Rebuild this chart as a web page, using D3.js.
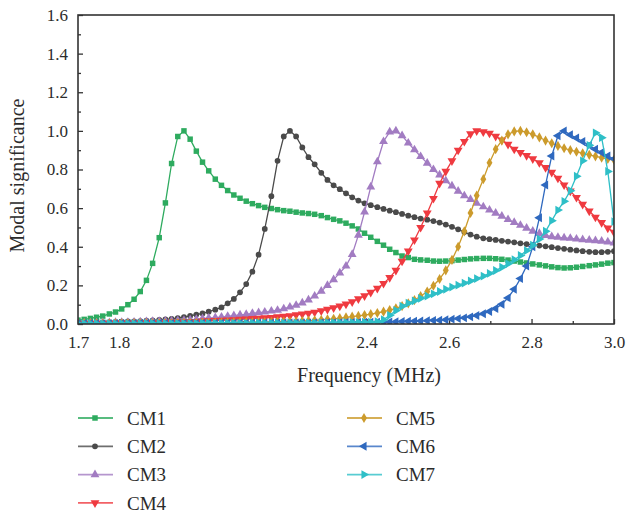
<!DOCTYPE html>
<html>
<head>
<meta charset="utf-8">
<script src="https://cdn.jsdelivr.net/npm/d3@7"></script>
<style>
  body { margin: 0; background: #fff; }
  svg text { font-family: "Liberation Serif", "Times New Roman", "DejaVu Serif", serif; fill: #2b2b2b; }
</style>
</head>
<body>
<div id="chart"></div>
<script>
// Frequency samples (MHz), one per marker
var freq = [1.700, 1.715, 1.730, 1.745, 1.760, 1.776, 1.791, 1.806, 1.821, 1.836,
  1.851, 1.866, 1.881, 1.897, 1.912, 1.927, 1.942, 1.957, 1.972, 1.987,
  2.002, 2.017, 2.033, 2.048, 2.063, 2.078, 2.093, 2.108, 2.123, 2.138,
  2.153, 2.169, 2.184, 2.199, 2.214, 2.229, 2.244, 2.259, 2.274, 2.290,
  2.305, 2.320, 2.335, 2.350, 2.365, 2.380, 2.395, 2.410, 2.426, 2.441,
  2.456, 2.471, 2.486, 2.501, 2.516, 2.531, 2.547, 2.562, 2.577, 2.592,
  2.607, 2.622, 2.637, 2.652, 2.667, 2.683, 2.698, 2.713, 2.728, 2.743,
  2.758, 2.773, 2.788, 2.803, 2.819, 2.834, 2.849, 2.864, 2.879, 2.894,
  2.909, 2.924, 2.940, 2.955, 2.970, 2.985, 3.000];

// Modal significance of each characteristic mode
var cm1 = [0.020, 0.024, 0.029, 0.035, 0.041, 0.052, 0.062, 0.078, 0.100, 0.128,
  0.168, 0.226, 0.314, 0.447, 0.627, 0.831, 0.971, 1.000, 0.957, 0.895,
  0.838, 0.793, 0.750, 0.718, 0.691, 0.668, 0.651, 0.636, 0.623, 0.613,
  0.604, 0.598, 0.592, 0.587, 0.584, 0.579, 0.575, 0.572, 0.568, 0.561,
  0.551, 0.542, 0.534, 0.522, 0.508, 0.492, 0.470, 0.449, 0.428, 0.408,
  0.387, 0.370, 0.352, 0.344, 0.335, 0.332, 0.330, 0.326, 0.325, 0.326,
  0.328, 0.331, 0.334, 0.337, 0.339, 0.340, 0.340, 0.338, 0.335, 0.331,
  0.326, 0.321, 0.316, 0.311, 0.306, 0.301, 0.296, 0.292, 0.290, 0.291,
  0.294, 0.298, 0.302, 0.306, 0.310, 0.315, 0.318];

var cm2 = [0.006, 0.007, 0.007, 0.008, 0.009, 0.010, 0.011, 0.012, 0.013, 0.014,
  0.015, 0.017, 0.019, 0.021, 0.024, 0.027, 0.031, 0.036, 0.042, 0.049,
  0.055, 0.064, 0.074, 0.086, 0.107, 0.130, 0.164, 0.207, 0.271, 0.359,
  0.492, 0.662, 0.845, 0.971, 1.000, 0.971, 0.914, 0.864, 0.827, 0.783,
  0.746, 0.718, 0.698, 0.677, 0.656, 0.639, 0.625, 0.615, 0.605, 0.596,
  0.587, 0.579, 0.570, 0.561, 0.553, 0.546, 0.540, 0.533, 0.525, 0.515,
  0.503, 0.490, 0.476, 0.463, 0.452, 0.444, 0.439, 0.435, 0.431, 0.427,
  0.423, 0.418, 0.414, 0.410, 0.406, 0.402, 0.398, 0.393, 0.389, 0.385,
  0.381, 0.377, 0.374, 0.372, 0.372, 0.374, 0.377];

var cm3 = [0.005, 0.005, 0.006, 0.006, 0.007, 0.007, 0.008, 0.009, 0.009, 0.010,
  0.011, 0.012, 0.013, 0.014, 0.015, 0.016, 0.018, 0.019, 0.021, 0.024,
  0.028, 0.031, 0.033, 0.036, 0.040, 0.043, 0.047, 0.050, 0.055, 0.059,
  0.062, 0.067, 0.071, 0.079, 0.088, 0.097, 0.109, 0.125, 0.145, 0.170,
  0.200, 0.230, 0.265, 0.300, 0.360, 0.460, 0.580, 0.710, 0.840, 0.945,
  0.995, 1.000, 0.975, 0.937, 0.902, 0.867, 0.833, 0.800, 0.772, 0.742,
  0.715, 0.688, 0.664, 0.645, 0.625, 0.607, 0.590, 0.574, 0.558, 0.541,
  0.526, 0.511, 0.496, 0.481, 0.469, 0.459, 0.452, 0.449, 0.446, 0.444,
  0.440, 0.437, 0.434, 0.432, 0.429, 0.425, 0.420];

var cm4 = [0.003, 0.003, 0.004, 0.004, 0.004, 0.005, 0.005, 0.006, 0.006, 0.006,
  0.007, 0.007, 0.008, 0.008, 0.009, 0.010, 0.011, 0.011, 0.012, 0.013,
  0.015, 0.016, 0.018, 0.019, 0.021, 0.022, 0.024, 0.026, 0.028, 0.030,
  0.032, 0.034, 0.037, 0.040, 0.043, 0.047, 0.051, 0.055, 0.061, 0.068,
  0.076, 0.084, 0.093, 0.103, 0.115, 0.130, 0.146, 0.164, 0.185, 0.210,
  0.240, 0.278, 0.325, 0.378, 0.435, 0.500, 0.575, 0.650, 0.728, 0.790,
  0.845, 0.900, 0.945, 0.985, 1.000, 0.995, 0.988, 0.972, 0.953, 0.930,
  0.905, 0.888, 0.872, 0.855, 0.835, 0.810, 0.785, 0.755, 0.720, 0.688,
  0.655, 0.620, 0.585, 0.553, 0.525, 0.497, 0.475];

var cm5 = [0.002, 0.002, 0.002, 0.002, 0.002, 0.002, 0.003, 0.003, 0.003, 0.003,
  0.003, 0.003, 0.004, 0.004, 0.004, 0.004, 0.005, 0.005, 0.005, 0.005,
  0.006, 0.006, 0.006, 0.007, 0.007, 0.008, 0.008, 0.009, 0.009, 0.010,
  0.010, 0.011, 0.012, 0.013, 0.013, 0.014, 0.015, 0.017, 0.019, 0.021,
  0.024, 0.027, 0.030, 0.034, 0.038, 0.042, 0.046, 0.051, 0.057, 0.064,
  0.072, 0.081, 0.093, 0.107, 0.124, 0.144, 0.168, 0.198, 0.233, 0.278,
  0.332, 0.400, 0.480, 0.575, 0.665, 0.750, 0.835, 0.905, 0.950, 0.982,
  0.997, 1.000, 0.993, 0.982, 0.966, 0.950, 0.936, 0.922, 0.910, 0.900,
  0.892, 0.884, 0.876, 0.868, 0.861, 0.855, 0.850];

var cm6 = [0.002, 0.002, 0.002, 0.002, 0.002, 0.002, 0.002, 0.002, 0.002, 0.002,
  0.003, 0.003, 0.003, 0.003, 0.003, 0.003, 0.003, 0.003, 0.003, 0.003,
  0.004, 0.004, 0.004, 0.004, 0.004, 0.004, 0.004, 0.004, 0.005, 0.005,
  0.005, 0.005, 0.005, 0.005, 0.006, 0.006, 0.006, 0.006, 0.006, 0.007,
  0.007, 0.007, 0.007, 0.008, 0.008, 0.008, 0.009, 0.009, 0.010, 0.010,
  0.011, 0.012, 0.013, 0.014, 0.015, 0.016, 0.017, 0.019, 0.020, 0.022,
  0.025, 0.028, 0.032, 0.037, 0.044, 0.053, 0.065, 0.080, 0.102, 0.135,
  0.180, 0.235, 0.300, 0.400, 0.550, 0.720, 0.870, 0.975, 1.000, 0.980,
  0.963, 0.945, 0.925, 0.905, 0.888, 0.870, 0.855];

var cm7 = [0.002, 0.002, 0.002, 0.002, 0.002, 0.002, 0.002, 0.002, 0.002, 0.002,
  0.003, 0.003, 0.003, 0.003, 0.003, 0.003, 0.003, 0.003, 0.003, 0.003,
  0.004, 0.004, 0.004, 0.004, 0.004, 0.004, 0.004, 0.004, 0.005, 0.005,
  0.005, 0.005, 0.005, 0.005, 0.006, 0.006, 0.006, 0.006, 0.006, 0.007,
  0.007, 0.007, 0.007, 0.008, 0.008, 0.008, 0.009, 0.009, 0.012, 0.022,
  0.045, 0.070, 0.092, 0.108, 0.120, 0.133, 0.145, 0.156, 0.168, 0.180,
  0.191, 0.201, 0.212, 0.223, 0.235, 0.248, 0.262, 0.277, 0.294, 0.312,
  0.333, 0.355, 0.380, 0.408, 0.440, 0.480, 0.535, 0.590, 0.635, 0.690,
  0.765, 0.845, 0.925, 0.990, 0.965, 0.790, 0.530];

var seriesNames = ["CM1", "CM2", "CM3", "CM4", "CM5", "CM6", "CM7"];
var seriesValues = [cm1, cm2, cm3, cm4, cm5, cm6, cm7];

// Axis ticks
var xMajorTicks = [1.7, 1.8, 2.0, 2.2, 2.4, 2.6, 2.8, 3.0];
var xMinorTicks = [1.9, 2.1, 2.3, 2.5, 2.7, 2.9];
var yMajorTicks = [0, 0.2, 0.4, 0.6, 0.8, 1.0, 1.2, 1.4, 1.6];
var yMinorTicks = [0.1, 0.3, 0.5, 0.7, 0.9, 1.1, 1.3, 1.5];

// Styles of each mode: colour, marker shape and rotation
var colors = ["#2eab5f", "#4a4a4a", "#a27cc2", "#ef3a40", "#cc9b2c", "#2f69bf", "#2ebfc7"];
var shapes = [d3.symbolSquare, d3.symbolCircle, d3.symbolTriangle, d3.symbolTriangle,
  d3.symbolDiamond, d3.symbolTriangle, d3.symbolTriangle];
var sizes = [30, 26, 34, 34, 30, 34, 34];
var rotations = [0, 0, 0, 180, 0, -90, 90];

var serif = "'Liberation Serif', 'Times New Roman', 'DejaVu Serif', serif";

var W = 628, H = 514;
var margin = { top: 15, right: 14, bottom: 190, left: 78 };
var width = W - margin.left - margin.right,
  height = H - margin.top - margin.bottom;

var svg = d3.select("#chart").append("svg")
  .attr("width", W)
  .attr("height", H)
  .attr("font-family", serif);

var g = svg.append("g")
  .attr("transform", `translate(${margin.left},${margin.top})`);

var x = d3.scaleLinear().domain([1.7, 3.0]).range([0, width]);
var y = d3.scaleLinear().domain([0, 1.6]).range([height, 0]);

// Inward ticks, major with labels and minor without
function drawAxis(axis, transform) {
  var a = g.append("g").attr("transform", transform).call(axis);
  a.attr("font-family", serif).attr("font-size", 17);
  a.select(".domain").remove();
  a.selectAll("line").attr("stroke", "#333").attr("stroke-width", 1.3);
  a.selectAll("text").attr("fill", "#2b2b2b");
  return a;
}

drawAxis(d3.axisBottom(x).tickValues(xMajorTicks).tickSize(-5).tickPadding(12)
  .tickFormat(d3.format(".1f")), `translate(0,${height})`);
drawAxis(d3.axisBottom(x).tickValues(xMinorTicks).tickSize(-3).tickFormat(""),
  `translate(0,${height})`);
drawAxis(d3.axisLeft(y).tickValues(yMajorTicks).tickSize(-5).tickPadding(10)
  .tickFormat(d3.format(".1f")), "translate(0,0)");
drawAxis(d3.axisLeft(y).tickValues(yMinorTicks).tickSize(-3).tickFormat(""),
  "translate(0,0)");

// Clip the curves to the frame
g.append("clipPath").attr("id", "plot-clip")
  .append("rect").attr("width", width).attr("height", height);

var plot = g.append("g").attr("clip-path", "url(#plot-clip)");

var line = d3.line()
  .x(function(d) { return x(d[0]); })
  .y(function(d) { return y(d[1]); });

seriesValues.forEach(function(vals, k) {
  var pts = freq.map(function(f, i) { return [f, vals[i]]; });
  var sym = d3.symbol().type(shapes[k]).size(sizes[k]);

  plot.append("path")
    .datum(pts)
    .attr("fill", "none")
    .attr("stroke", colors[k])
    .attr("stroke-width", 1.3)
    .attr("d", line);

  plot.selectAll(".mk" + k)
    .data(pts)
    .enter()
    .append("path")
    .attr("class", "mk" + k)
    .attr("d", sym)
    .attr("fill", colors[k])
    .attr("transform", function(d) {
      return `translate(${x(d[0])},${y(d[1])}) rotate(${rotations[k]})`;
    });
});

// Frame around the plot
g.append("rect")
  .attr("width", width)
  .attr("height", height)
  .attr("fill", "none")
  .attr("stroke", "#333")
  .attr("stroke-width", 1.6);

// Axis titles
g.append("text")
  .attr("font-size", 20)
  .attr("text-anchor", "middle")
  .attr("x", 291)
  .attr("y", height + 58)
  .text("Frequency (MHz)");

g.append("text")
  .attr("font-size", 20)
  .attr("text-anchor", "middle")
  .attr("transform", `translate(-54,${height / 2 + 6}) rotate(-90)`)
  .text("Modal significance");

// Legend in two columns
var legend = svg.append("g");
seriesNames.forEach(function(name, k) {
  var col = k < 4 ? 0 : 1,
    row = k < 4 ? k : k - 4;
  var item = legend.append("g")
    .attr("transform", `translate(${78 + col * 269},${418 + row * 28.3})`);

  item.append("line")
    .attr("x1", 0).attr("x2", 35)
    .attr("stroke", colors[k])
    .attr("stroke-width", 1.8)
    .attr("stroke-opacity", 0.8);

  item.append("path")
    .attr("d", d3.symbol().type(shapes[k]).size(sizes[k]))
    .attr("fill", colors[k])
    .attr("transform", `translate(17,0) rotate(${rotations[k]})`);

  item.append("text")
    .attr("font-size", 19)
    .attr("x", 49)
    .attr("dy", "0.35em")
    .text(name);
});
</script>
</body>
</html>
